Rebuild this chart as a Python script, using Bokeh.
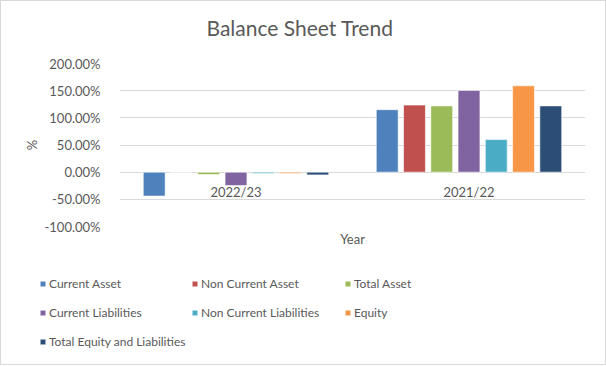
from bokeh.plotting import figure
from bokeh.layouts import column
from bokeh.models import ColumnDataSource, Legend, LegendItem, NumeralTickFormatter, FixedTicker, Range1d
from bokeh.transform import dodge
from bokeh.core.properties import value
from bokeh.embed import file_html
from bokeh.resources import INLINE

years = ["2022/23", "2021/22"]
current_asset = [-0.44, 1.15]
non_current_asset = [-0.005, 1.235]
total_asset = [-0.045, 1.22]
current_liabilities = [-0.245, 1.505]
non_current_liabilities = [-0.025, 0.60]
equity = [-0.025, 1.59]
total_equity_liabilities = [-0.05, 1.22]

series_names = ["Current Asset", "Non Current Asset", "Total Asset", "Current Liabilities",
                "Non Current Liabilities", "Equity", "Total Equity and Liabilities"]
series_keys = ["ca", "nca", "ta", "cl", "ncl", "eq", "tel"]
colors = ["#4F81BD", "#C0504D", "#9BBB59", "#8064A2", "#4BACC6", "#F79646", "#2C4D75"]
y_ticks = [-1.0, -0.5, 0.0, 0.5, 1.0, 1.5, 2.0]
chart_title = "Balance Sheet Trend"

source = ColumnDataSource(dict(year=years, ca=current_asset, nca=non_current_asset, ta=total_asset,
                               cl=current_liabilities, ncl=non_current_liabilities, eq=equity,
                               tel=total_equity_liabilities, zero=[0, 0]))

FONT = "Lato"
TXT = "#595959"
W = 604
step = 0.117
has_frame_align = "frame_align" in figure().properties()

# title strip
TH = 46
tf = figure(width=W, height=TH, title=chart_title, output_backend="svg", toolbar_location=None,
            x_axis_type=None, y_axis_type=None, min_border=0, min_border_top=41)
tf.outline_line_color = None
tf.xgrid.grid_line_color = None
tf.ygrid.grid_line_color = None
tf.title.align = "left"
tf.title.offset = 205
tf.title.text_font = FONT
tf.title.text_font_size = "21px"
tf.title.text_font_style = "normal"
tf.title.text_color = TXT
tf.title.vertical_align = "top"
tf.title.standoff = 2

p = figure(x_range=years, y_range=Range1d(-1.0, 2.0), width=W, height=255 - TH,
           output_backend="svg", toolbar_location=None,
           min_border_left=118, min_border_right=W - 584, min_border_top=16, min_border_bottom=30)
p.outline_line_color = None

renderers = []
for i, (k, c) in enumerate(zip(series_keys, colors)):
    r = p.vbar(x=dodge("year", (i - 3) * step, range=p.x_range), top=k, width=0.094,
               source=source, fill_color=c, line_color="white", line_width=0.6)
    renderers.append(r)

p.text(x="year", y="zero", text="year", source=source, text_align="center", text_baseline="middle",
       y_offset=20, text_font=value(FONT), text_font_size="13px", text_color=TXT)

p.yaxis.ticker = FixedTicker(ticks=y_ticks)
p.yaxis.formatter = NumeralTickFormatter(format="0.00%")
p.yaxis.axis_line_color = None
p.yaxis.major_tick_line_color = None
p.yaxis.minor_tick_line_color = None
p.yaxis.major_label_text_font = FONT
p.yaxis.major_label_text_font_size = "13px"
p.yaxis.major_label_text_color = TXT
p.yaxis.major_label_standoff = 13
p.yaxis.axis_label = "%"
p.yaxis.axis_label_text_font = FONT
p.yaxis.axis_label_text_font_size = "13px"
p.yaxis.axis_label_text_font_style = "normal"
p.yaxis.axis_label_text_color = TXT
p.yaxis.axis_label_standoff = 1

p.xaxis.axis_line_color = None
p.xaxis.major_tick_line_color = None
p.xaxis.minor_tick_line_color = None
p.xaxis.major_label_text_font_size = "0px"
p.xaxis.major_label_standoff = 0
p.xaxis.axis_label = "Year"
p.xaxis.axis_label_text_font = FONT
p.xaxis.axis_label_text_font_size = "13px"
p.xaxis.axis_label_text_font_style = "normal"
p.xaxis.axis_label_text_color = TXT
p.xaxis.axis_label_standoff = -2

p.xgrid.grid_line_color = None
p.ygrid.grid_line_color = "#D9D9D9"
p.ygrid.grid_line_width = 1

# legend panel below the chart: same series drawn outside its visible y-range,
# so only the legend entries show
LH = 108
lf = figure(width=W, height=LH, x_range=years, y_range=Range1d(5, 6), output_backend="svg",
            toolbar_location=None, x_axis_type=None, y_axis_type=None, min_border=0)
lf.outline_line_color = None
lf.xgrid.grid_line_color = None
lf.ygrid.grid_line_color = None

if has_frame_align:
    for f in (tf, p, lf):
        f.frame_align = False

leg_renderers = [lf.vbar(x=dodge("year", (i - 3) * step, range=lf.x_range), top=k, width=0.094,
                         source=source, fill_color=c, line_color="white", line_width=0.6)
                 for i, (k, c) in enumerate(zip(series_keys, colors))]

columns = [[0, 3, 6], [1, 4], [2, 5]]
col_x = [38, 190, 343]
for idxs, vx in zip(columns, col_x):
    n = len(idxs)
    h = n * 16 + (n - 1) * 13
    vy = LH - (19 + h)
    leg = Legend(items=[LegendItem(label=series_names[i], renderers=[leg_renderers[i]]) for i in idxs],
                 location=(vx, vy), orientation="vertical", glyph_width=7, glyph_height=7,
                 label_height=16, label_standoff=3, spacing=13, padding=0, margin=0,
                 border_line_color=None, background_fill_alpha=0,
                 label_text_font=FONT, label_text_font_size="12px", label_text_color=TXT)
    lf.add_layout(leg, "center")

layout = column(tf, p, lf, spacing=0)
layout.styles = {"border": "1px solid #D9D9D9"}

open("out.html", "w").write(file_html(layout, INLINE))
